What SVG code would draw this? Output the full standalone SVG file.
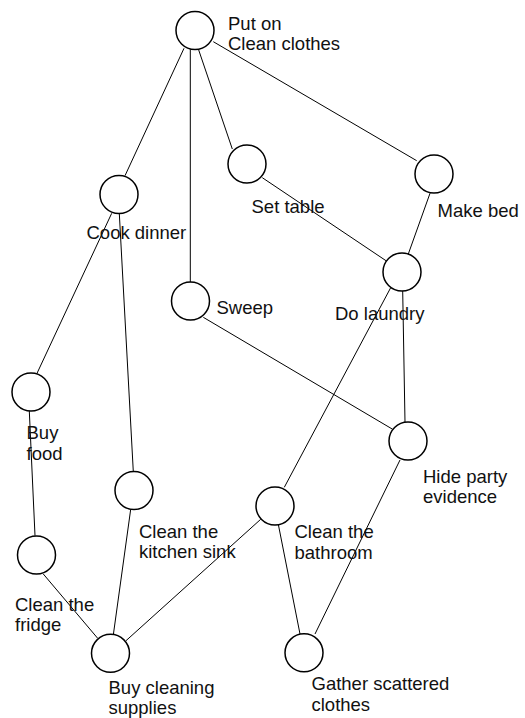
<svg xmlns="http://www.w3.org/2000/svg" width="525" height="718" viewBox="0 0 525 718">
<style>
.edge{stroke:#000;stroke-width:1;fill:none}
.node circle{fill:#fff;stroke:#000;stroke-width:1.5}
.node text{font-family:"Liberation Sans",Arial,sans-serif;font-size:18.5px;fill:#111}
</style>
<rect width="525" height="718" fill="#fff"/>
<g id="connectors">
<line class="edge" x1="184" y1="48.3" x2="125" y2="175.7"/>
<line class="edge" x1="190.3" y1="49.3" x2="190.3" y2="282.3"/>
<line class="edge" x1="198.7" y1="50" x2="232.3" y2="149"/>
<line class="edge" x1="213.3" y1="41.7" x2="416.7" y2="160.7"/>
<line class="edge" x1="262.3" y1="177.7" x2="386" y2="260.7"/>
<line class="edge" x1="430" y1="193.3" x2="408.3" y2="254"/>
<line class="edge" x1="111.7" y1="213.3" x2="36.7" y2="374"/>
<line class="edge" x1="119.3" y1="213.3" x2="133.3" y2="471.7"/>
<line class="edge" x1="203.3" y1="317.3" x2="392.7" y2="429.3"/>
<line class="edge" x1="402.7" y1="291" x2="405" y2="422.3"/>
<line class="edge" x1="390.7" y1="287.7" x2="284.3" y2="487.3"/>
<line class="edge" x1="29.3" y1="411" x2="35" y2="535.7"/>
<line class="edge" x1="43.3" y1="574" x2="97.7" y2="638.3"/>
<line class="edge" x1="130.7" y1="509.3" x2="113.3" y2="635"/>
<line class="edge" x1="260.7" y1="519.3" x2="126" y2="640.7"/>
<line class="edge" x1="278.3" y1="524.3" x2="300" y2="634"/>
<line class="edge" x1="400" y1="460" x2="315" y2="634"/>
</g>
<g id="put-on-clean-clothes" class="node"><circle cx="195" cy="30.5" r="19"/><text x="228" y="29.5">Put on</text><text x="228" y="50">Clean clothes</text></g>
<g id="cook-dinner" class="node"><circle cx="119" cy="194.5" r="19"/><text x="86.5" y="239">Cook dinner</text></g>
<g id="set-table" class="node"><circle cx="247" cy="164" r="19"/><text x="251.5" y="213">Set table</text></g>
<g id="make-bed" class="node"><circle cx="434" cy="174" r="19"/><text x="437.5" y="216.5">Make bed</text></g>
<g id="sweep" class="node"><circle cx="190.5" cy="301" r="19"/><text x="216.5" y="314">Sweep</text></g>
<g id="do-laundry" class="node"><circle cx="402" cy="272" r="19"/><text x="335" y="320">Do laundry</text></g>
<g id="buy-food" class="node"><circle cx="31" cy="392" r="19"/><text x="26.5" y="439">Buy</text><text x="26.5" y="460">food</text></g>
<g id="hide-party-evidence" class="node"><circle cx="408" cy="441" r="19"/><text x="423" y="482.5">Hide party</text><text x="423" y="502.5">evidence</text></g>
<g id="clean-kitchen-sink" class="node"><circle cx="134" cy="490.5" r="19"/><text x="139" y="537.5">Clean the</text><text x="139" y="558">kitchen sink</text></g>
<g id="clean-bathroom" class="node"><circle cx="275" cy="506" r="19"/><text x="294.5" y="538">Clean the</text><text x="294.5" y="558.5">bathroom</text></g>
<g id="clean-fridge" class="node"><circle cx="36.5" cy="555" r="19"/><text x="15" y="610.5">Clean the</text><text x="15" y="631">fridge</text></g>
<g id="buy-cleaning-supplies" class="node"><circle cx="110.5" cy="653.3" r="19"/><text x="108.5" y="694">Buy cleaning</text><text x="108.5" y="714">supplies</text></g>
<g id="gather-scattered-clothes" class="node"><circle cx="304" cy="652.8" r="19"/><text x="311.5" y="690">Gather scattered</text><text x="311.5" y="710.5">clothes</text></g>
</svg>
